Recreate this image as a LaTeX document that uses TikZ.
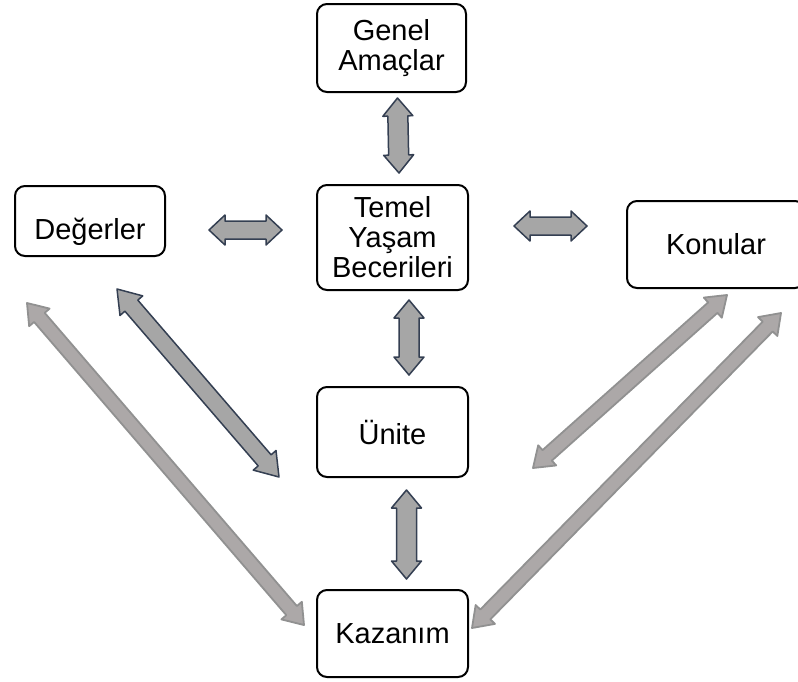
\documentclass[tikz,border=0pt]{standalone}
\usepackage{fontspec}
\setmainfont{Liberation Sans}
\usetikzlibrary{calc}

% double block arrow between two named points:
% #1 style, #2 from, #3 to, #4 half shaft, #5 half head, #6 head length
\newcommand{\dblarrow}[6]{%
  \filldraw[#1] (#2)
    -- ($(#2)!#6!(#3)!#5!90:(#3)$) -- ($(#2)!#6!(#3)!#4!90:(#3)$)
    -- ($(#3)!#6!(#2)!#4!-90:(#2)$) -- ($(#3)!#6!(#2)!#5!-90:(#2)$)
    -- (#3)
    -- ($(#3)!#6!(#2)!#5!90:(#2)$) -- ($(#3)!#6!(#2)!#4!90:(#2)$)
    -- ($(#2)!#6!(#3)!#4!-90:(#3)$) -- ($(#2)!#6!(#3)!#5!-90:(#3)$)
    -- cycle;}

\begin{document}
\begin{tikzpicture}[x=1pt, y=-1pt,
  box/.style={draw=black, line width=2pt, rounded corners=10pt, align=center,
    inner sep=0pt, font=\fontsize{29}{30}\selectfont},
  darkarr/.style={fill=arrfill, draw=arrline, line width=1.5pt, line join=round},
  lightarr/.style={fill=lgfill, draw=lgline, line width=1.8pt, line join=round}]

% Colors
\definecolor{arrfill}{RGB}{166,166,166} % arrow fill
\definecolor{arrline}{RGB}{52,63,82}    % arrow outline
\definecolor{lgfill}{RGB}{172,168,168}  % light arrow fill
\definecolor{lgline}{RGB}{145,145,145}  % light arrow outline

\useasboundingbox (0,0) rectangle (798,681);

% === Boxes ===
\node[box, minimum width=149pt, minimum height=88pt] (genel) at (391.5,48) {Genel\\Amaçlar};
\node[box, minimum width=151pt, minimum height=105pt] (temel) at (392.5,237.5) {Temel\\Yaşam\\Becerileri};
\node[box, minimum width=150pt, minimum height=70pt, text height=38pt, text depth=2pt] (degerler) at (90,221) {Değerler};
\node[box, minimum width=178pt, minimum height=87pt] (konular) at (716,244.5) {Konular};
\node[box, minimum width=151pt, minimum height=90pt] (unite) at (392.5,432) {Ünite};
\node[box, minimum width=151pt, minimum height=87pt] (kazanim) at (392.5,633.5) {Kazanım};

% === Arrow ends ===
\coordinate (g1) at ($(genel.south)+(6,5)$);
\coordinate (t1) at ($(temel.north)+(6.5,-11)$);
\coordinate (t2) at ($(temel.south)+(16.5,9)$);
\coordinate (u1) at ($(unite.north)+(16.5,-11)$);
\coordinate (u2) at ($(unite.south)+(14,12)$);
\coordinate (k1) at ($(kazanim.north)+(14,-10)$);
\coordinate (d1) at ($(degerler.east)+(43,9)$);
\coordinate (t3) at ($(temel.west)+(-34,-7.5)$);
\coordinate (t4) at ($(temel.east)+(45,-11.5)$);
\coordinate (n1) at ($(konular.west)+(-39,-18.5)$);
\coordinate (d2) at ($(degerler.south)+(27,32)$);
\coordinate (u3) at ($(unite.west)+(-37,45)$);
\coordinate (d3) at ($(degerler.south west)+(13,46)$);
\coordinate (k2) at ($(kazanim.west)+(-12,-8.5)$);
\coordinate (n2) at ($(konular.south)+(11,6)$);
\coordinate (u4) at ($(unite.east)+(64,36)$);
\coordinate (n3) at ($(konular.south east)+(-25,24)$);
\coordinate (k3) at ($(kazanim.east)+(3,-5.5)$);

% === Arrows ===
\dblarrow{darkarr}{g1}{t1}{10pt}{15pt}{18pt}
\dblarrow{darkarr}{t2}{u1}{10pt}{15pt}{18pt}
\dblarrow{darkarr}{u2}{k1}{10pt}{15pt}{18pt}
\dblarrow{darkarr}{d1}{t3}{9pt}{15pt}{16pt}
\dblarrow{darkarr}{t4}{n1}{9pt}{15pt}{16pt}
\dblarrow{darkarr}{d2}{u3}{8.5pt}{15pt}{22pt}
\dblarrow{lightarr}{d3}{k2}{7pt}{13.5pt}{19pt}
\dblarrow{lightarr}{n2}{u4}{7pt}{13.5pt}{19pt}
\dblarrow{lightarr}{n3}{k3}{7pt}{13.5pt}{19pt}

\end{tikzpicture}
\end{document}
